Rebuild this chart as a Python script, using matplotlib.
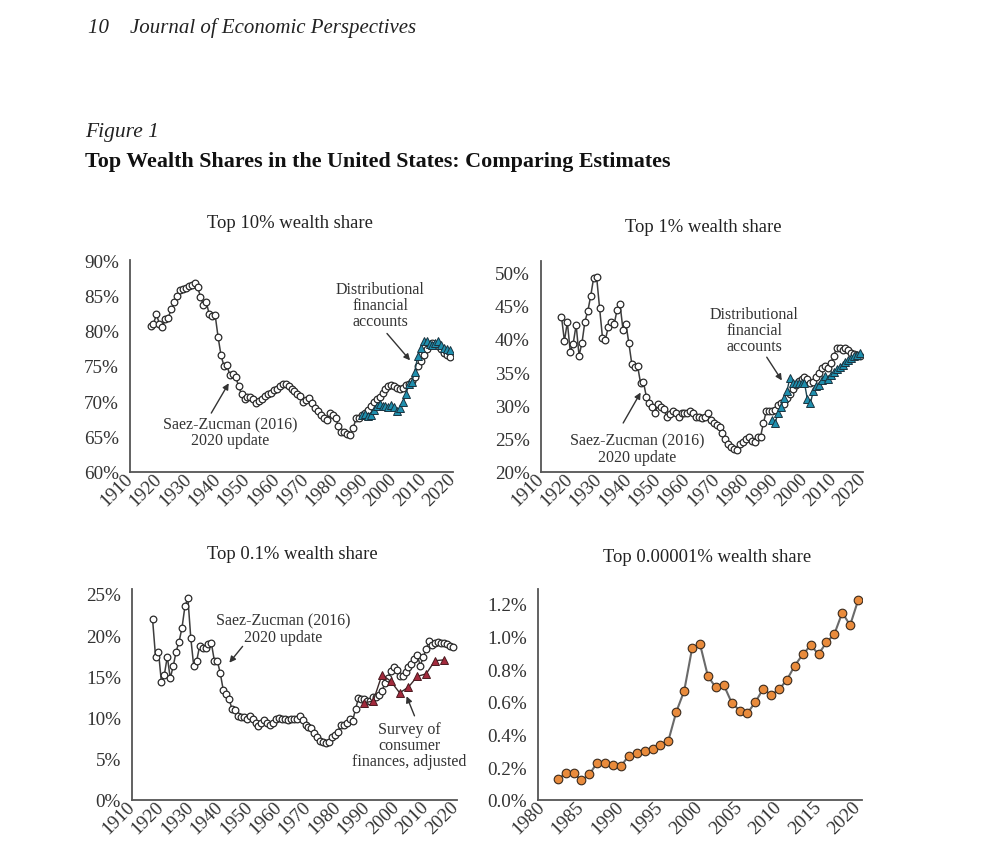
import matplotlib
matplotlib.use('Agg')
import matplotlib.pyplot as plt
from matplotlib.ticker import FuncFormatter

plt.rcParams['font.family'] = ['Liberation Serif', 'DejaVu Serif']

# Saez-Zucman (2016), 2020 update, annual 1917-2019
years_sz = list(range(1917, 2020))
top10_sz = [80.7, 81.0, 82.3, 81.0, 80.5, 81.6, 81.8, 83.0, 84.0, 84.9,
            85.7, 85.9, 86.1, 86.3, 86.4, 86.7, 86.2, 84.8, 83.6, 84.0,
            82.3, 82.1, 82.2, 79.1, 76.5, 75.0, 75.1, 73.7, 73.8, 73.5,
            72.1, 71.0, 70.3, 70.6, 70.6, 70.3, 69.7, 70.0, 70.3, 70.7,
            71.1, 71.2, 71.6, 71.8, 72.1, 72.5, 72.4, 72.1, 71.8, 71.4,
            71.1, 70.7, 69.9, 70.2, 70.5, 69.8, 69.1, 68.6, 68.0, 67.7,
            67.3, 68.3, 68.0, 67.6, 66.5, 65.6, 65.6, 65.4, 65.3, 66.2,
            67.6, 67.7, 68.0, 68.4, 68.8, 69.4, 69.9, 70.3, 70.6, 71.2,
            71.8, 72.1, 72.3, 72.2, 71.9, 71.8, 71.9, 72.3, 72.5, 72.9,
            73.5, 75.0, 75.7, 76.6, 77.4, 78.0, 78.2, 78.0, 77.8, 77.4,
            76.8, 76.5, 76.3]
top1_sz = [43.3, 39.7, 42.5, 38.1, 39.3, 42.1, 37.5, 39.4, 42.6, 44.2,
           46.5, 49.2, 49.3, 44.7, 40.2, 39.9, 41.8, 42.6, 42.2, 44.4,
           45.2, 41.4, 42.3, 39.4, 36.3, 35.8, 35.9, 33.4, 33.5, 31.3,
           30.3, 29.8, 28.9, 30.2, 29.7, 29.4, 28.2, 28.7, 29.2, 28.8,
           28.3, 28.8, 28.9, 28.8, 29.1, 28.8, 28.3, 28.2, 28.1, 28.3,
           28.8, 27.8, 27.3, 27.1, 26.8, 25.8, 24.9, 24.2, 23.7, 23.5,
           23.3, 24.2, 24.5, 25.0, 25.3, 24.7, 24.5, 25.2, 25.3, 27.4,
           29.2, 29.2, 29.2, 29.3, 30.1, 30.3, 30.2, 31.1, 31.7, 32.5,
           33.1, 33.6, 33.9, 34.3, 34.0, 33.4, 33.5, 34.3, 34.9, 35.6,
           36.0, 35.6, 36.4, 37.4, 38.7, 38.7, 38.4, 38.7, 38.4, 37.9,
           37.8, 37.6, 37.4]
top01_sz = [21.9, 17.4, 18.0, 14.3, 15.2, 17.4, 14.8, 16.2, 18.0, 19.2,
            20.9, 23.5, 24.5, 19.6, 16.2, 16.9, 18.7, 18.5, 18.4, 18.9,
            19.0, 16.9, 16.9, 15.4, 13.4, 12.9, 12.3, 11.0, 10.9, 10.2,
            10.1, 10.1, 9.8, 10.2, 9.8, 9.4, 9.0, 9.4, 9.7, 9.4,
            9.1, 9.4, 9.8, 10.0, 9.8, 9.8, 9.7, 9.8, 9.8, 9.8,
            10.2, 9.7, 9.1, 8.9, 8.7, 8.1, 7.6, 7.2, 7.0, 6.9,
            7.0, 7.6, 7.9, 8.3, 9.1, 9.1, 9.3, 9.8, 9.6, 11.0,
            12.4, 12.3, 12.3, 12.0, 12.0, 12.5, 12.5, 12.7, 13.2, 14.2,
            14.8, 15.7, 16.1, 15.8, 15.0, 15.0, 15.5, 16.1, 16.5, 17.1,
            17.6, 16.3, 17.3, 18.3, 19.3, 18.8, 19.1, 19.2, 19.1, 19.0,
            18.9, 18.7, 18.6]

# Distributional financial accounts, 1989-2019
years_dfa = list(range(1989, 2020))
top10_dfa = [68.0, 68.2, 67.9, 68.1, 68.8, 69.4, 69.6, 69.4, 69.3, 69.2,
             69.5, 69.2, 68.6, 69.0, 69.9, 71.1, 72.4, 72.8, 74.2, 76.4,
             77.6, 78.5, 78.6, 78.1, 78.0, 78.3, 78.6, 78.0, 77.6, 77.4,
             77.2]
top1_dfa = [27.8, 27.4, 28.9, 29.8, 31.1, 32.1, 34.1, 33.4, 33.3, 33.4,
            33.3, 33.4, 30.9, 30.3, 32.1, 32.9, 33.1, 33.8, 34.4, 33.9,
            34.6, 35.0, 35.4, 35.8, 36.1, 36.5, 36.8, 37.1, 37.4, 37.6,
            37.9]

# Survey of consumer finances, adjusted
years_scf = [1989, 1992, 1995, 1998, 2001, 2004, 2007, 2010, 2013, 2016]
top01_scf = [11.8, 12.0, 15.2, 14.4, 13.0, 13.7, 15.0, 15.3, 16.9, 17.0]

# Top 0.00001% (Forbes), 1982-2020
years_fb = list(range(1982, 2021))
top_fb = [0.127, 0.163, 0.163, 0.120, 0.157, 0.229, 0.227, 0.216, 0.208, 0.271,
          0.290, 0.298, 0.310, 0.335, 0.363, 0.539, 0.667, 0.927, 0.953, 0.757,
          0.688, 0.704, 0.596, 0.547, 0.531, 0.598, 0.680, 0.641, 0.676, 0.735,
          0.822, 0.890, 0.945, 0.892, 0.963, 1.014, 1.145, 1.069, 1.220]

W, H = 1000, 862
fig = plt.figure(figsize=(W / 100, H / 100), dpi=100)
fig.patch.set_facecolor('white')


def rect(l, r, t, b):
    return [l / W, 1 - b / H, (r - l) / W, (b - t) / H]


def style(ax, xticks, yticks, fmt):
    for s in ['top', 'right']:
        ax.spines[s].set_visible(False)
    for s in ['left', 'bottom']:
        ax.spines[s].set_color('#555555')
        ax.spines[s].set_linewidth(1.3)
    ax.set_xticks(xticks)
    ax.set_yticks(yticks)
    ax.yaxis.set_major_formatter(FuncFormatter(fmt))
    ax.tick_params(length=0, labelsize=13.8, labelcolor='#333333')
    ax.tick_params(axis='y', pad=8)
    ax.tick_params(axis='x', pad=3)
    for lbl in ax.get_xticklabels():
        lbl.set_rotation(45)
        lbl.set_ha('right')
        lbl.set_va('center')
        lbl.set_rotation_mode('anchor')


pct0 = lambda v, p: '%d%%' % round(v)
pct1 = lambda v, p: '%.1f%%' % v

line_c = '#3d3d3d'
circ = dict(color=line_c, lw=1.1, marker='o', ms=4.8, mfc='white', mec='#2a2a2a', mew=0.9)
ann_fs = 11.5
arrow = dict(arrowstyle='-|>', color='#333333', lw=1.0, mutation_scale=9)

# Panel 1: top 10%
ax1 = fig.add_axes(rect(130, 453, 261, 473))
ax1.plot(years_sz, top10_sz, **circ)
ax1.plot(years_dfa, top10_dfa, color='#1e4350', lw=1.0, marker='^', ms=5.5,
         mfc='#1f8fae', mec='#1b3440', mew=0.7)
ax1.set_xlim(1910, 2020)
ax1.set_ylim(60, 90)
style(ax1, range(1910, 2021, 10), range(60, 91, 5), pct0)
ax1.annotate('', xy=(2006.0, 75.5), xytext=(1996.9, 79.9), arrowprops=arrow)
ax1.text(1995.2, 83.6, 'Distributional\nfinancial\naccounts', ha='center', va='center',
         fontsize=ann_fs, color='#333333', linespacing=1.0)
ax1.annotate('', xy=(1944.1, 72.9), xytext=(1937.2, 68.0), arrowprops=arrow)
ax1.text(1944, 65.6, 'Saez-Zucman (2016)\n2020 update', ha='center', va='center',
         fontsize=ann_fs, color='#333333', linespacing=1.0)

# Panel 2: top 1%
ax2 = fig.add_axes(rect(541, 863, 262, 473))
ax2.plot(years_sz, top1_sz, **circ)
ax2.plot(years_dfa, top1_dfa, color='#1e4350', lw=1.0, marker='^', ms=5.5,
         mfc='#1f8fae', mec='#1b3440', mew=0.7)
ax2.set_xlim(1910, 2020)
ax2.set_ylim(20, 51.7)
style(ax2, range(1910, 2021, 10), range(20, 51, 5), pct0)
ax2.annotate('', xy=(1992.8, 33.4), xytext=(1986.6, 37.6), arrowprops=arrow)
ax2.text(1982.8, 41.4, 'Distributional\nfinancial\naccounts', ha='center', va='center',
         fontsize=ann_fs, color='#333333', linespacing=1.0)
ax2.annotate('', xy=(1944.5, 32.3), xytext=(1937.6, 27.0), arrowprops=arrow)
ax2.text(1942.8, 23.5, 'Saez-Zucman (2016)\n2020 update', ha='center', va='center',
         fontsize=ann_fs, color='#333333', linespacing=1.0)

# Panel 3: top 0.1%
ax3 = fig.add_axes(rect(132, 457, 590, 801))
ax3.plot(years_sz, top01_sz, **circ)
ax3.plot(years_scf, top01_scf, color='#3a2a2a', lw=1.0, marker='^', ms=5.8,
         mfc='#a32a3c', mec='#4a1a20', mew=0.7)
ax3.set_xlim(1910, 2020.5)
ax3.set_ylim(0, 25.6)
style(ax3, range(1910, 2021, 10), range(0, 26, 5), pct0)
ax3.annotate('', xy=(1942.5, 16.4), xytext=(1948.2, 18.9), arrowprops=arrow)
ax3.text(1961.4, 20.8, 'Saez-Zucman (2016)\n2020 update', ha='center', va='center',
         fontsize=ann_fs, color='#333333', linespacing=1.0)
ax3.annotate('', xy=(2003.0, 12.9), xytext=(2006.4, 9.9), arrowprops=arrow)
ax3.text(2004.2, 6.7, 'Survey of\nconsumer\nfinances, adjusted', ha='center', va='center',
         fontsize=ann_fs, color='#333333', linespacing=1.0)

# Panel 4: top 0.00001%
ax4 = fig.add_axes(rect(538, 862, 590, 801))
ax4.plot(years_fb, top_fb, color='#6a6a6a', lw=1.5, marker='o', ms=6.2,
         mfc='#e98b3c', mec='#3a2a1c', mew=0.8)
ax4.set_xlim(1979.5, 2020.5)
ax4.set_ylim(0, 1.29)
style(ax4, range(1980, 2021, 5), [0.0, 0.2, 0.4, 0.6, 0.8, 1.0, 1.2], pct1)

# panel titles
fig.text(290 / W, 1 - 224 / H, 'Top 10% wealth share', ha='center', va='center', fontsize=13.4, color='#222222')
fig.text(703 / W, 1 - 228 / H, 'Top 1% wealth share', ha='center', va='center', fontsize=13.4, color='#222222')
fig.text(292 / W, 1 - 555 / H, 'Top 0.1% wealth share', ha='center', va='center', fontsize=13.4, color='#222222')
fig.text(707 / W, 1 - 558 / H, 'Top 0.00001% wealth share', ha='center', va='center', fontsize=13.4, color='#222222')

# page header and figure title
fig.text(88 / W, 1 - 28 / H, '10    Journal of Economic Perspectives', ha='left', va='center',
         fontsize=15, style='italic', color='#222222')
fig.text(85 / W, 1 - 133 / H, 'Figure 1', ha='left', va='center', fontsize=15.5,
         style='italic', color='#222222')
fig.text(85 / W, 1 - 162 / H, 'Top Wealth Shares in the United States: Comparing Estimates',
         ha='left', va='center', fontsize=15.8, fontweight='bold', color='#111111')

fig.savefig('out.png', dpi=100, facecolor='white')
